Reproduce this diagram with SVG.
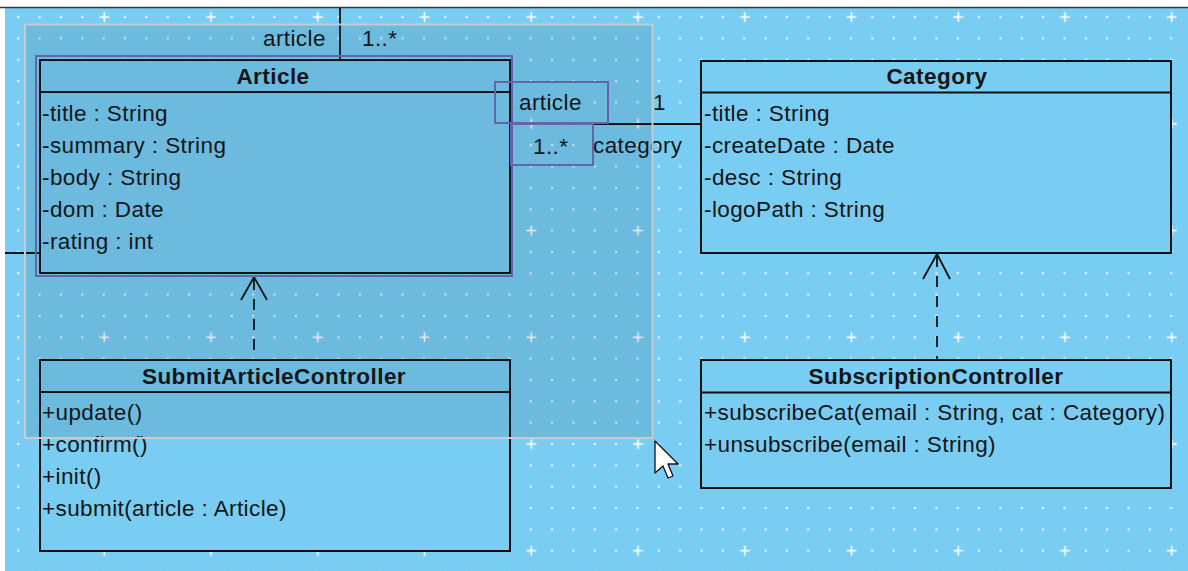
<svg xmlns="http://www.w3.org/2000/svg" width="1188" height="571" viewBox="0 0 1188 571">
<style>
.t{font-family:"Liberation Sans",Arial,sans-serif;font-size:22.5px;letter-spacing:0.4px;fill:#151515}
.h{font-weight:bold;text-anchor:middle;letter-spacing:0.45px}
.box{fill:#79cdf2;stroke:#111;stroke-width:2}
.div{stroke:#111;stroke-width:2}
.ln{stroke:#111;stroke-width:1.8;fill:none}
.dash{stroke:#111;stroke-width:1.8;stroke-dasharray:11 9;fill:none}
.sel{fill:none;stroke:#6e6eb4;stroke-width:2}
</style>
<defs>
<pattern id="dots" patternUnits="userSpaceOnUse" x="7.625" y="6.325" width="21.35" height="21.35">
<circle cx="10.675" cy="10.675" r="1.2" fill="#e4f4fd"/>
</pattern>
<pattern id="plus" patternUnits="userSpaceOnUse" x="50.925" y="-36.375" width="106.75" height="106.75">
<path d="M48.4 53.375H58.4M53.375 48.4V58.4" stroke="#ffffff" stroke-width="1.6"/>
</pattern>
</defs>
<rect width="1188" height="571" fill="#ffffff"/>
<rect x="5" y="7.5" width="1183" height="564" fill="#79cdf2"/>
<rect x="5" y="8" width="1183" height="563" fill="url(#dots)"/>
<rect x="5" y="8" width="1183" height="563" fill="url(#plus)"/>
<line x1="0" y1="7.5" x2="1188" y2="7.5" stroke="#3a3a3a" stroke-width="1.6"/>

<g id="connectors">
<line class="ln" x1="340" y1="8" x2="340" y2="60"/>
<line class="ln" x1="5" y1="253" x2="40" y2="253"/>
<line class="ln" x1="510" y1="124" x2="701" y2="124"/>
<line class="dash" x1="254" y1="279" x2="254" y2="360"/>
<polyline class="ln" points="241,300 254,277 267,300"/>
<line class="dash" x1="937" y1="256" x2="937" y2="360"/>
<polyline class="ln" points="923,279 937,254 950,279"/>
<text class="t" x="263" y="46">article</text>
<text class="t" x="362" y="46">1..*</text>
<text class="t" x="519" y="110">article</text>
<text class="t" x="653" y="110">1</text>
<text class="t" x="533" y="154">1..*</text>
<text class="t" x="593" y="153">category</text>
</g>

<g id="article">
<rect class="box" x="40" y="60" width="470" height="213"/>
<line class="div" x1="40" y1="92" x2="510" y2="92"/>
<text class="t h" x="273" y="84">Article</text>
<text class="t" x="42" y="121">-title : String</text>
<text class="t" x="42" y="153">-summary : String</text>
<text class="t" x="42" y="185">-body : String</text>
<text class="t" x="42" y="217">-dom : Date</text>
<text class="t" x="42" y="249">-rating : int</text>
<rect class="sel" x="36" y="56" width="476" height="220"/>
</g>

<g id="category">
<rect class="box" x="701" y="61" width="470" height="192"/>
<line class="div" x1="701" y1="92.5" x2="1171" y2="92.5"/>
<text class="t h" x="937" y="84">Category</text>
<text class="t" x="704" y="121">-title : String</text>
<text class="t" x="704" y="153">-createDate : Date</text>
<text class="t" x="704" y="185">-desc : String</text>
<text class="t" x="704" y="217">-logoPath : String</text>
</g>

<g id="submitArticleController">
<rect class="box" x="40" y="360" width="470" height="191"/>
<line class="div" x1="40" y1="392" x2="510" y2="392"/>
<text class="t h" x="274" y="384">SubmitArticleController</text>
<text class="t" x="42" y="420">+update()</text>
<text class="t" x="42" y="452">+confirm()</text>
<text class="t" x="42" y="484">+init()</text>
<text class="t" x="42" y="516">+submit(article : Article)</text>
</g>

<g id="subscriptionController">
<rect class="box" x="701" y="360" width="470" height="128"/>
<line class="div" x1="701" y1="392.5" x2="1171" y2="392.5"/>
<text class="t h" x="936" y="384">SubscriptionController</text>
<text class="t" x="704" y="420">+subscribeCat(email : String, cat : Category)</text>
<text class="t" x="704" y="452">+unsubscribe(email : String)</text>
</g>

<g id="labelSelection">
<rect class="sel" x="495" y="82" width="113" height="41"/>
<rect class="sel" x="511" y="124" width="82" height="41"/>
</g>

<rect id="selection" x="25" y="24.5" width="627.5" height="413.5" fill="#10204a" fill-opacity="0.11" stroke="#c6cbd0" stroke-width="2"/>
<polygon id="cursor" points="655,441 655,473 663,466 668,478 673,476 668,464 678,464" fill="#ffffff" stroke="#111" stroke-width="1.3" stroke-linejoin="round"/>
</svg>
